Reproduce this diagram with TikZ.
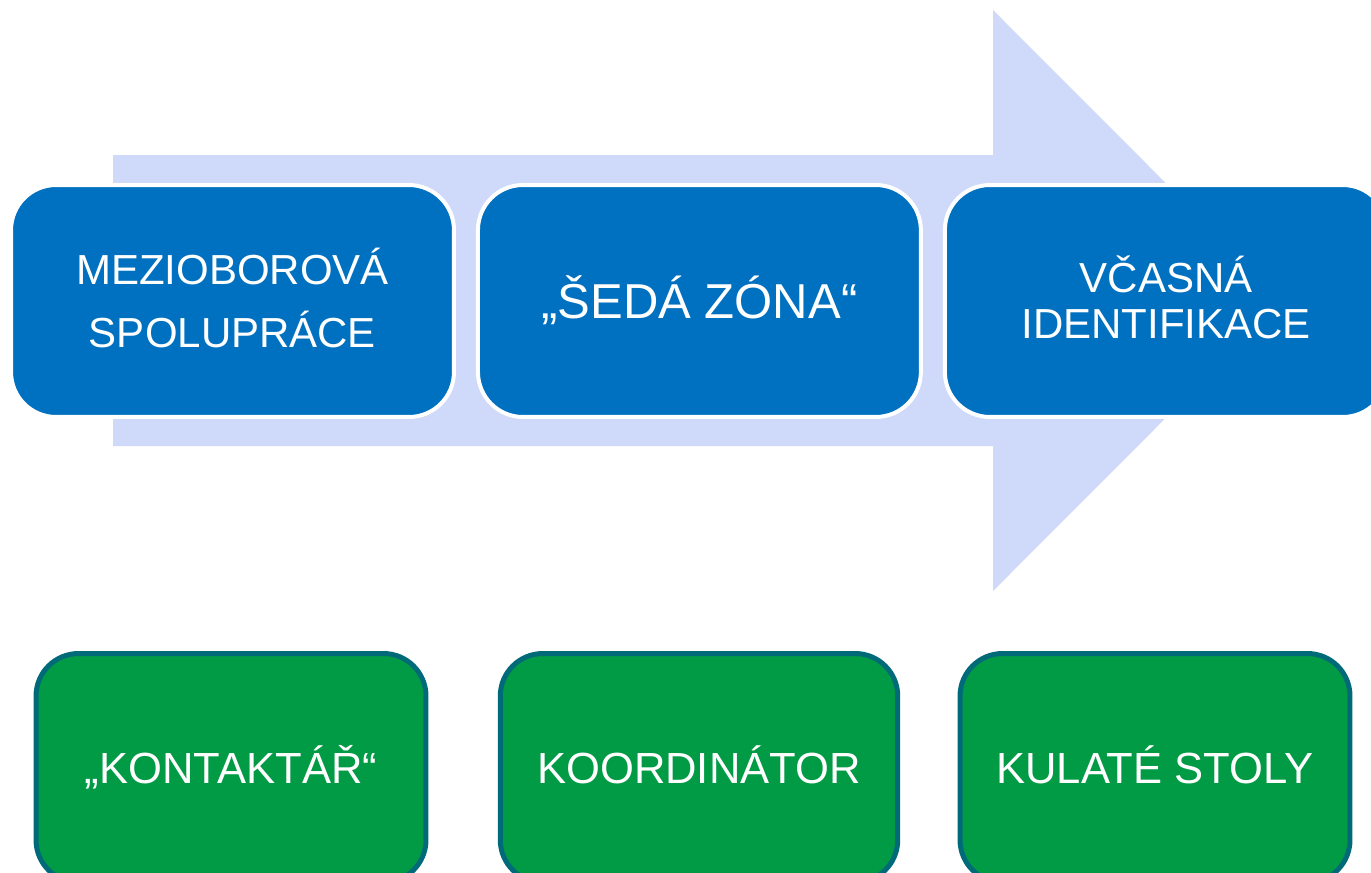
\documentclass[tikz,border=0pt]{standalone}
\usepackage{fontspec}
\setmainfont{Liberation Sans}
\usepackage{tikz}
\usetikzlibrary{positioning}
\definecolor{arrowLavender}{RGB}{207, 217, 249}
\definecolor{stageBlue}{RGB}{0, 112, 192}
\definecolor{toolGreen}{RGB}{0, 155, 68}
\definecolor{toolTeal}{RGB}{0, 106, 120}

\begin{document}
\begin{tikzpicture}[
    x=0.02cm, y=-0.02cm,
    stage/.style={
        rectangle,
        draw=white,
        fill=stageBlue,
        line width=0.08cm,
        minimum width=8.86cm,
        minimum height=4.64cm,
        rounded corners=0.9cm,
        text=white,
        align=center,
        inner sep=0pt,
        font=\fontsize{23.9}{26.2}\selectfont,
        text height=0.6cm,
        text depth=0cm
    },
    tool/.style={
        rectangle,
        draw=toolTeal,
        fill=toolGreen,
        line width=0.1cm,
        minimum width=7.8cm,
        minimum height=4.58cm,
        rounded corners=0.85cm,
        text=white,
        inner sep=0pt,
        font=\fontsize{24.8}{27}\selectfont,
        text height=0.62cm,
        text depth=0cm
    }
]
    \useasboundingbox (0,0) rectangle (1371,872);
    \clip (0,0) rectangle (1371,872);

    % Background: process arrow
    \fill[arrowLavender] (113,155) -- (993,155) -- (993,10) -- (1283,300.5)
        -- (993,591) -- (993,446) -- (113,446) -- cycle;

    % Row 1: stages on the arrow
    \node[stage, font=\fontsize{23.9}{36.4}\selectfont, text height=1.88cm] (mezi) at (232.5,301) {MEZIOBOROVÁ\\SPOLUPRÁCE};
    \node[stage, right=0.4cm of mezi, font=\fontsize{27.9}{30}\selectfont, text height=0.7cm] (seda) {„ŠEDÁ ZÓNA“};
    \node[stage, right=0.4cm of seda, text height=1.52cm] (vcas) {VČASNÁ\\IDENTIFIKACE};

    % Row 2: tools
    \node[tool] (kontakt) at (231,768) {„KONTAKTÁŘ“};
    \node[tool, minimum width=7.95cm] (koord) at (699,768) {KOORDINÁTOR};
    \node[tool] (stoly) at (1155,768) {KULATÉ STOLY};

\end{tikzpicture}
\end{document}
